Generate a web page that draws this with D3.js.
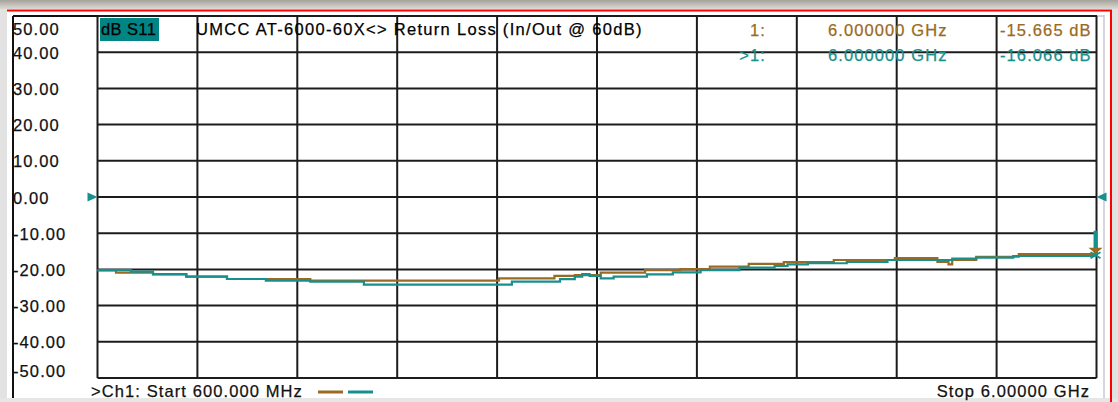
<!DOCTYPE html>
<html><head><meta charset="utf-8">
<script src="https://cdn.jsdelivr.net/npm/d3@7"></script>
<style>
html,body{margin:0;padding:0;background:#fff;}
svg{display:block;}
text{font-family:"Liberation Sans",Arial,sans-serif;font-size:16.5px;letter-spacing:1.1px;stroke-width:0.25px;}
</style></head>
<body><div id="chart"></div>
<script>
// ---- data ----
const yTickValues = [50, 40, 30, 20, 10, 0, -10, -20, -30, -40, -50];
const yTickLabels = ["50.00","40.00","30.00","20.00","10.00","0.00","-10.00","-20.00","-30.00","-40.00","-50.00"];
const startGHz = 0.6, stopGHz = 6.0, xDivisions = 10;
// memory trace (brown)
const memFreq = [0.60, 0.70, 0.90, 1.08, 1.30, 1.75, 2.77, 3.07, 3.18, 3.32, 3.56, 3.75, 3.91, 4.12, 4.31, 4.58, 4.91, 5.14, 5.20, 5.22, 5.35, 5.58, 6.00];
const memDb   = [-20.3, -20.9, -21.35, -22.0, -22.65, -23.1, -22.5, -21.8, -21.6, -20.9, -20.2, -19.9, -19.25, -18.5, -18.0, -17.4, -16.9, -17.9, -18.6, -17.4, -16.5, -15.75, -15.665];
// data trace (teal)
const dataFreq = [0.60, 0.78, 0.90, 1.08, 1.30, 1.51, 1.75, 2.04, 2.84, 3.10, 3.18, 3.22, 3.26, 3.32, 3.39, 3.57, 3.71, 3.86, 4.07, 4.26, 4.33, 4.44, 4.65, 4.87, 5.22, 5.35, 5.55, 5.99, 6.00];
const dataDb   = [-20.2, -20.6, -21.3, -22.0, -22.65, -23.1, -23.4, -24.2, -23.4, -22.7, -22.0, -21.3, -21.8, -22.5, -22.0, -21.35, -20.8, -20.2, -19.5, -19.06, -18.6, -18.3, -17.96, -17.4, -17.0, -16.75, -16.3, -9.6, -16.066];
const markerLabels = [
  {id:"1:",  freq:"6.000000 GHz", val:"-15.665 dB", mFreq:6.0, mDb:-15.665},
  {id:">1:", freq:"6.000000 GHz", val:"-16.066 dB", mFreq:6.0, mDb:-16.066}
];
const traceName = "dB S11";
const title = "UMCC  AT-6000-60X<> Return Loss (In/Out @ 60dB)";
const startLabel = ">Ch1: Start  600.000 MHz";
const stopLabel = "Stop  6.00000 GHz";

// ---- styles ----
const W = 1118, H = 402;
const brown = "#9a6a22", teal = "#17908d", tealBox = "#008484";
const gridColor = "#1c1c1c";

const svg = d3.select("#chart").append("svg").attr("width", W).attr("height", H);

// window chrome
const defs = svg.append("defs");
const g1 = defs.append("linearGradient").attr("id","topg").attr("x1",0).attr("x2",0).attr("y1",0).attr("y2",1);
g1.append("stop").attr("offset","0%").attr("stop-color","#a5a39b");
g1.append("stop").attr("offset","100%").attr("stop-color","#dcdad4");
svg.append("rect").attr("x",0).attr("y",0).attr("width",W).attr("height",H).attr("fill","#ffffff");
svg.append("rect").attr("x",0).attr("y",0).attr("width",W).attr("height",9).attr("fill","url(#topg)");
svg.append("rect").attr("x",0).attr("y",9).attr("width",7).attr("height",H-9).attr("fill","#e2e2e2");
svg.append("rect").attr("x",1112).attr("y",9).attr("width",W-1112).attr("height",H-9).attr("fill","#e2e2e2");
svg.append("rect").attr("x",0).attr("y",398).attr("width",W).attr("height",4).attr("fill","#e6e6e6");
svg.append("line").attr("x1",7).attr("x2",1112).attr("y1",10.5).attr("y2",10.5).attr("stroke","#ff0000").attr("stroke-width",2);
svg.append("line").attr("x1",1111).attr("x2",1111).attr("y1",10).attr("y2",H).attr("stroke","#ff0000").attr("stroke-width",2);
svg.append("line").attr("x1",1104).attr("x2",1104).attr("y1",15).attr("y2",398).attr("stroke","#c8c8d0").attr("stroke-width",1.5);
svg.append("line").attr("x1",13).attr("x2",13).attr("y1",16).attr("y2",398).attr("stroke","#111").attr("stroke-width",2);
svg.append("line").attr("x1",13).attr("x2",1097).attr("y1",16).attr("y2",16).attr("stroke","#111").attr("stroke-width",2);
svg.append("line").attr("x1",1097).attr("x2",1104).attr("y1",16).attr("y2",16).attr("stroke","#c8c8d0").attr("stroke-width",1.5);

// scales
const x = d3.scaleLinear().domain([startGHz, stopGHz]).range([97.5, 1096.5]);
const y = d3.scaleLinear().domain([-50, 50]).range([378, 16]);

// grid
const grid = svg.append("g");
const xGrid = d3.range(xDivisions + 1).map(i => startGHz + i * (stopGHz - startGHz) / xDivisions);
grid.selectAll("line.v").data(xGrid).join("line").attr("class","v")
  .attr("x1", d => x(d)).attr("x2", d => x(d)).attr("y1", y(50)).attr("y2", y(-50))
  .attr("stroke", gridColor).attr("stroke-width", 2);
grid.selectAll("line.h").data(yTickValues).join("line").attr("class","h")
  .attr("x1", x(startGHz)).attr("x2", x(stopGHz)).attr("y1", d => y(d)).attr("y2", d => y(d))
  .attr("stroke", gridColor).attr("stroke-width", 2);

// y labels
svg.append("g").selectAll("text").data(yTickValues).join("text")
  .attr("x", 13).attr("y", d => Math.max(35, Math.min(377, y(d) + 6.5)))
  .attr("fill","#111").attr("stroke","#111").text((d,i) => yTickLabels[i]);

// header
svg.append("rect").attr("x",100).attr("y",18).attr("width",59).attr("height",23).attr("fill",tealBox);
svg.append("text").attr("x",101).attr("y",35).attr("fill","#000").attr("stroke","#000").style("letter-spacing","0.4px").text(traceName);
svg.append("text").attr("x",196).attr("y",35).attr("fill","#000").attr("stroke","#000").style("letter-spacing","1.3px").text(title);

const mk = svg.append("g");
markerLabels.forEach((m, i) => {
  const c = i === 0 ? brown : teal;
  const by = i === 0 ? 36 : 60.5;
  mk.append("text").attr("x", 766).attr("y", by).attr("text-anchor","end").attr("fill", c).attr("stroke", c).text(m.id);
  mk.append("text").attr("x", 828).attr("y", by).attr("fill", c).attr("stroke", c).text(m.freq);
  mk.append("text").attr("x", 1000).attr("y", by).attr("fill", c).attr("stroke", c).text(m.val);
});

// footer
svg.append("text").attr("x",91).attr("y",396.5).attr("fill","#111").attr("stroke","#111").text(startLabel);
svg.append("line").attr("x1",318).attr("x2",343).attr("y1",392).attr("y2",392).attr("stroke",brown).attr("stroke-width",3);
svg.append("line").attr("x1",348).attr("x2",373).attr("y1",392).attr("y2",392).attr("stroke",teal).attr("stroke-width",3);
svg.append("text").attr("x",1090).attr("y",396.5).attr("text-anchor","end").attr("fill","#111").attr("stroke","#111").text(stopLabel);

// traces
const line = d3.line().x(d => x(d[0])).y(d => y(d[1])).curve(d3.curveStepAfter);
const memPts = memFreq.map((f,i) => [f, memDb[i]]);
const dataPts = dataFreq.map((f,i) => [f, dataDb[i]]);
svg.append("path").attr("d", line(memPts)).attr("fill","none").attr("stroke", brown).attr("stroke-width", 2.2);
svg.append("path").attr("d", line(dataPts)).attr("fill","none").attr("stroke", teal).attr("stroke-width", 2.2);

// reference position markers (0 dB)
const ry = y(0);
svg.append("path").attr("d", `M${x(startGHz)-10},${ry-4.5}L${x(startGHz)},${ry}L${x(startGHz)-10},${ry+4.5}Z`).attr("fill", teal);
svg.append("path").attr("d", `M${x(stopGHz)+10},${ry-4.5}L${x(stopGHz)},${ry}L${x(stopGHz)+10},${ry+4.5}Z`).attr("fill", teal);

// trace markers
const m0 = markerLabels[0], m1 = markerLabels[1];
const bx = x(m0.mFreq) - 1, byy = y(m0.mDb);
svg.append("path").attr("d", `M${bx-7},${byy-6}L${bx+7},${byy-6}L${bx},${byy}Z`).attr("fill", brown);
const tx = x(m1.mFreq) - 1, ty = y(m1.mDb);
svg.append("path").attr("d", `M${tx-5},${ty-3}L${tx+5},${ty+3}M${tx+5},${ty-3}L${tx-5},${ty+3}`).attr("stroke", teal).attr("stroke-width", 1.8);
</script>
</body></html>
